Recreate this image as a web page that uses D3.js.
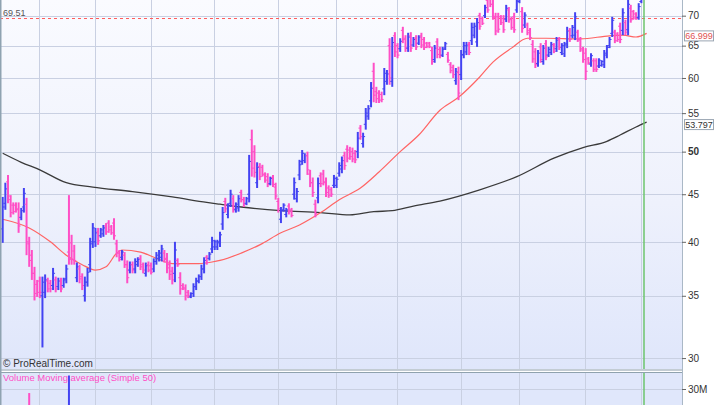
<!DOCTYPE html>
<html><head><meta charset="utf-8">
<script src="https://cdn.jsdelivr.net/npm/d3@7"></script>
<style>body{margin:0;background:#fff}svg{display:block}text{font-family:"Liberation Sans",Arial,sans-serif}</style>
</head><body><svg id="c" width="720" height="405"></svg>
<script>
// ---- data (daily OHLC, price) ----
const open=[41.3,44.0,46.4,44.4,43.8,43.8,43.4,42.5,43.6,43.9,
39.8,38.7,37.0,36.0,36.3,35.0,35.3,36.3,36.1,35.9,
36.4,35.8,36.3,35.9,36.5,39.0,39.9,39.1,36.6,37.4,
36.7,35.0,36.2,37.8,40.0,40.0,41.0,40.6,40.8,41.6,
41.9,41.5,41.9,39.8,38.9,38.5,38.7,37.8,37.3,37.8,
37.4,37.8,38.4,37.8,37.0,37.8,37.7,37.4,38.1,38.4,
38.5,38.9,38.4,37.8,37.2,37.0,38.2,36.6,35.9,35.6,
35.3,34.9,35.2,35.8,36.3,36.7,37.4,38.5,38.4,39.3,
39.5,39.5,39.9,41.8,44.2,42.8,44.0,44.5,43.3,43.5,
45.2,44.4,44.0,45.0,51.5,50.0,46.3,48.2,48.1,47.2,
47.0,46.2,46.9,45.8,44.2,42.3,43.3,42.8,43.7,43.3,
45.0,44.5,47.2,48.8,48.9,49.5,47.3,46.3,43.9,44.6,
47.1,47.3,46.3,45.7,45.5,46.0,46.0,47.4,47.9,49.5,
50.3,50.2,50.0,49.8,50.0,53.0,51.0,53.5,54.6,56.7,
61.0,58.0,57.8,57.6,58.4,59.5,65.0,59.5,66.6,65.0,
64.5,67.5,66.2,64.6,66.6,65.1,66.2,65.4,66.6,66.0,
65.4,65.4,64.2,62.8,65.6,64.4,63.5,64.6,63.6,62.0,
61.6,59.6,60.8,60.5,63.6,64.0,65.2,65.8,66.7,65.6,
70.0,69.5,70.0,72.7,73.2,72.0,69.7,69.8,69.8,69.5,
69.4,71.0,69.4,69.8,71.0,72.5,70.7,68.4,68.4,67.5,
65.2,64.0,62.2,64.8,62.5,65.3,63.5,63.9,65.1,64.5,
66.0,63.9,63.7,65.3,67.5,66.6,66.7,67.2,65.9,64.3,
63.8,62.9,62.1,62.6,62.6,61.8,61.9,62.0,63.5,65.0,
67.0,67.2,66.9,68.2,67.5,68.8,67.6,71.3,70.7,70.3,
69.7,72.5];
const high=[44.7,46.3,47.2,44.9,44.1,44.1,44.1,43.5,45.7,44.6,
40.5,39.2,37.6,36.4,36.7,36.7,36.9,36.6,36.4,37.5,
36.7,36.6,36.6,36.6,37.8,44.9,40.7,39.7,38.0,37.8,
37.0,36.7,37.5,40.4,41.9,41.4,41.4,41.4,41.7,41.9,
42.2,41.7,42.4,40.2,39.2,39.2,39.0,38.2,38.1,38.1,
38.4,38.5,38.7,38.0,38.0,38.1,38.0,38.4,39.0,39.2,
39.7,39.2,38.9,38.2,37.6,40.0,38.4,37.1,36.1,36.0,
35.5,35.3,36.1,36.6,36.9,37.8,38.5,38.7,39.0,40.5,
40.2,40.2,41.0,43.6,44.6,44.0,45.5,44.9,44.1,44.9,
45.5,44.7,44.7,49.6,52.8,50.8,48.7,48.6,48.4,47.5,
47.4,47.0,47.2,46.3,44.6,43.6,44.0,43.5,44.0,43.5,
46.9,45.7,49.0,50.2,49.8,50.0,47.8,46.9,44.4,46.9,
47.5,47.8,46.9,46.0,45.8,47.2,47.0,48.7,49.4,50.0,
50.8,50.6,50.5,50.2,52.5,53.4,52.4,55.7,56.1,59.4,
62.3,58.7,58.2,58.0,61.5,61.2,66.2,66.4,67.2,65.4,
66.2,68.1,66.7,67.1,67.2,66.4,66.7,66.7,67.1,66.4,
65.6,65.6,64.8,65.1,66.2,64.8,64.8,65.6,64.0,62.4,
62.0,61.5,61.7,64.3,65.6,65.6,65.6,68.8,68.8,69.6,
70.5,69.8,71.9,73.3,73.7,72.8,70.5,70.5,70.1,70.1,
71.9,71.5,69.8,70.5,73.1,73.7,71.5,70.6,68.8,67.9,
65.9,64.6,64.3,65.4,65.1,65.9,64.8,65.6,65.4,66.4,
66.4,65.4,65.6,68.1,67.9,68.4,70.6,67.6,66.4,64.8,
64.6,63.2,63.8,63.0,63.0,63.0,62.7,64.3,65.1,66.4,
69.8,67.6,67.2,68.8,71.3,69.3,73.1,71.9,71.0,70.6,
72.2,73.7];
const low=[39.9,43.3,44.0,42.5,42.8,43.0,40.9,42.2,43.0,38.7,
37.6,36.4,34.6,34.9,34.8,30.8,34.8,35.3,35.3,35.5,
35.3,35.5,35.3,35.7,36.1,37.8,37.8,37.8,36.2,36.1,
35.5,34.5,35.8,37.1,39.4,39.5,39.7,40.4,40.5,40.7,
40.9,40.7,40.2,38.5,38.1,38.2,37.5,36.1,37.0,37.0,
37.0,37.6,37.3,37.0,36.7,37.1,36.9,37.1,37.8,38.1,
38.1,38.0,37.0,36.4,36.0,36.2,37.6,35.1,35.5,34.6,
34.8,34.8,34.9,35.5,36.1,36.4,37.0,37.8,38.2,38.9,
39.2,39.2,39.5,41.2,43.0,42.4,43.6,43.0,43.0,43.1,
44.1,43.6,43.8,44.1,47.0,46.9,45.7,46.6,47.0,46.3,
45.8,46.0,45.8,44.4,43.0,41.9,43.1,42.5,42.8,42.5,
44.4,44.1,46.6,48.4,48.6,47.2,45.8,44.7,42.5,44.0,
45.8,46.0,44.7,44.6,44.7,45.7,45.7,47.0,47.4,47.8,
48.7,49.0,48.7,48.6,49.2,51.5,50.5,52.8,54.1,55.8,
56.5,56.4,56.4,56.5,57.5,59.0,59.0,58.7,63.2,63.0,
64.0,65.4,64.0,64.0,64.0,64.8,64.3,65.1,64.6,64.3,
64.6,64.6,62.0,62.3,63.0,63.0,63.2,64.3,62.3,60.7,
60.0,59.0,56.8,59.7,63.0,63.5,63.5,65.1,66.2,64.8,
67.6,68.4,69.6,70.5,71.5,69.3,66.7,67.1,68.4,67.1,
68.9,68.8,67.6,67.1,70.5,72.2,67.1,67.9,66.7,65.9,
62.3,61.5,61.7,62.3,62.0,62.7,63.2,63.5,63.8,64.0,
64.3,63.5,63.2,64.6,65.6,66.2,65.9,65.6,64.0,62.3,
59.7,62.0,61.7,60.9,60.9,61.5,61.7,61.5,63.0,64.6,
66.4,65.4,65.6,65.4,66.7,66.7,66.7,68.8,69.3,69.3,
69.3,72.2];
const close=[43.6,45.6,44.8,43.0,43.1,43.3,41.6,43.2,45.1,40.0,
38.2,37.0,35.2,35.3,35.3,36.2,36.4,35.6,35.6,37.0,
35.6,36.3,35.6,36.4,37.4,38.3,38.3,38.2,37.6,36.5,
35.9,36.2,37.1,39.8,41.4,40.9,40.1,41.2,41.4,41.0,
41.2,40.9,40.6,38.9,38.3,39.0,37.8,36.6,37.8,37.3,
38.1,38.3,37.6,37.3,37.7,37.3,37.1,38.1,38.7,38.9,
39.3,38.3,37.5,36.9,36.4,39.2,37.8,35.6,35.7,35.0,
35.0,35.2,35.8,36.3,36.7,37.4,38.2,38.0,38.8,40.1,
40.0,40.0,40.7,43.0,43.4,43.7,45.0,43.4,43.9,44.5,
44.4,43.9,44.5,48.8,48.0,47.5,48.1,47.0,47.3,46.6,
46.1,46.8,46.1,44.8,43.4,43.2,43.8,43.3,43.1,42.7,
46.3,45.3,48.4,49.8,49.5,47.8,46.3,45.2,42.9,46.2,
46.2,46.4,45.2,44.9,45.0,46.8,46.7,48.3,48.9,48.3,
49.2,49.4,49.1,49.0,51.7,51.9,51.9,55.0,55.6,58.5,
57.5,57.0,56.8,56.9,60.7,60.6,60.0,65.5,64.0,63.5,
65.7,66.0,64.6,66.4,64.6,66.0,64.8,66.4,65.1,64.7,
64.9,64.8,62.5,64.6,63.6,63.4,64.4,65.3,62.7,61.1,
60.5,60.9,57.8,63.5,65.0,65.1,63.9,68.0,68.2,68.8,
68.2,68.7,71.4,71.0,72.0,69.9,67.4,67.7,68.8,67.6,
71.3,69.3,68.0,67.6,72.6,73.3,67.8,70.1,67.1,66.3,
62.9,62.0,63.8,62.8,64.6,63.2,64.4,65.2,64.1,65.9,
64.7,65.0,65.1,67.4,66.0,68.0,69.8,66.0,64.5,62.8,
61.0,62.3,63.4,61.3,61.3,62.7,62.5,63.8,64.7,66.0,
69.2,65.8,66.0,66.0,70.5,67.2,72.0,69.3,69.6,69.5,
71.6,73.3];
// volume, millions of shares
const volume=[14,16,15,12,10,9,13,11,14,22,
28.5,18,20,15,13,23,16,12,11,13,
10,9,10,9,11,35,18,14,12,11,
12,14,12,16,15,12,10,9,9,10,
9,8,11,13,10,8,10,12,9,8,
9,8,9,8,9,8,8,9,10,9,
10,9,10,11,12,15,10,13,10,12,
9,8,9,10,9,11,12,9,10,13,
10,9,11,14,12,11,13,11,9,10,
11,9,9,21,22,16,13,11,9,10,
9,8,9,11,13,14,10,9,10,9,
14,11,16,15,11,13,12,12,15,14,
11,10,12,10,9,10,9,12,12,11,
11,9,10,9,14,13,11,17,15,19,
22,14,11,10,16,13,21,20,17,12,
12,14,12,13,12,10,11,10,11,10,
9,9,13,12,12,10,9,10,11,13,
12,13,18,17,13,11,10,15,13,16,
14,10,13,14,15,14,15,12,10,11,
13,11,10,12,15,14,17,13,11,12,
16,14,12,12,11,11,9,10,9,10,
10,9,10,12,10,11,14,11,12,13,
17,11,10,11,10,9,8,10,11,12,
15,12,10,12,14,12,19,13,10,9,
12,13];
// moving averages (bar index, value)
const ma50Idx=[0,10,18,24,30,35,39,43,45,52,58,64,74,79,82,90,97,105,112,120,127,135,142,150,157,165,172,180,185,192,198,205,218,229,234,239,243];
const ma50Val=[42.3,41.4,40.0,38.7,37.8,37.3,37.6,38.9,39.2,39.0,38.4,37.9,37.9,38.05,38.2,38.9,39.7,40.9,41.7,43.0,44.4,45.7,47.55,50.0,52.1,55.4,57.2,60.15,62.4,64.6,66.2,66.2,66.1,66.6,66.7,66.4,67.0];
const ma200Idx=[0,7,14,24,34,49,64,77,82,90,105,120,131,140,147,155,165,180,194,208,219,228,233,239,243];
const ma200Val=[49.8,48.7,47.8,46.3,45.8,45.3,44.7,44.1,43.9,43.6,43.2,43.0,42.75,43.1,43.2,43.7,44.25,45.5,47.0,49.2,50.5,51.3,52.1,53.15,53.8];
const ma50Last="66.999", ma200Last="53.797";
const priceTicks=[30,35,40,45,50,55,60,65,70];
const volTicks=[30];
const monthBreaks=[14,35,56,80,104,126,149,173,195,220,241];
const refLevel=69.51;
const cursorIdx=242;

// ---- layout ----
const W=720,H=405,plotL=0,plotR=682,mainTop=0,mainBot=369,volTop=373,volBot=405;
const FONT='"Liberation Sans",Arial,sans-serif';
const svg=d3.select("#c");
const x=d3.scaleLinear().domain([0,241]).range([2.7,641.35]);
const y=d3.scaleLog().domain([29.2,72.77]).range([mainBot,mainTop]);
const yv=d3.scaleLinear().domain([0,36]).range([470,372.8]);
const UP="#4343f2",DOWN="#ff4fc6";

const defs=svg.append("defs");
const g1=defs.append("linearGradient").attr("id","bgMain").attr("x1",0).attr("y1",0).attr("x2",0).attr("y2",1);
g1.append("stop").attr("offset","0%").attr("stop-color","#fafbff");
g1.append("stop").attr("offset","55%").attr("stop-color","#eef1fc");
g1.append("stop").attr("offset","100%").attr("stop-color","#dfe6fb");
defs.append("clipPath").attr("id","clipMain").append("rect").attr("x",plotL).attr("y",mainTop).attr("width",plotR-plotL).attr("height",mainBot-mainTop);
defs.append("clipPath").attr("id","clipVol").append("rect").attr("x",plotL).attr("y",volTop).attr("width",plotR-plotL).attr("height",volBot-volTop);

svg.append("rect").attr("width",W).attr("height",H).attr("fill","#ffffff");
svg.append("rect").attr("x",plotL).attr("y",mainTop).attr("width",plotR-plotL).attr("height",mainBot-mainTop).attr("fill","url(#bgMain)");
svg.append("rect").attr("x",plotL).attr("y",volTop).attr("width",plotR-plotL).attr("height",volBot-volTop).attr("fill","#e0e7fb");

// grid
const grid=svg.append("g").attr("stroke","#c9d0e2").attr("stroke-width",1);
priceTicks.forEach(t=>grid.append("line").attr("x1",plotL).attr("x2",plotR).attr("y1",Math.round(y(t))+0.5).attr("y2",Math.round(y(t))+0.5));
volTicks.forEach(t=>grid.append("line").attr("x1",plotL).attr("x2",plotR).attr("y1",Math.round(yv(t))+0.5).attr("y2",Math.round(yv(t))+0.5));
monthBreaks.forEach(m=>{
  const xx=Math.round(x(m)-0.5)+0.5;
  grid.append("line").attr("x1",xx).attr("x2",xx).attr("y1",mainTop).attr("y2",mainBot);
  grid.append("line").attr("x1",xx).attr("x2",xx).attr("y1",volTop).attr("y2",volBot);
});

// main panel content
const main=svg.append("g").attr("clip-path","url(#clipMain)");
main.append("line").attr("x1",plotL).attr("x2",plotR).attr("y1",y(refLevel)).attr("y2",y(refLevel))
  .attr("stroke","#ff5a5a").attr("stroke-width",1).attr("stroke-dasharray","3,3");

const line=d3.line().curve(d3.curveMonotoneX);
main.append("path").attr("d",line(ma200Idx.map((d,i)=>[x(d),y(ma200Val[i])]))).attr("fill","none").attr("stroke","#3a3a3a").attr("stroke-width",1.3);
main.append("path").attr("d",line(ma50Idx.map((d,i)=>[x(d),y(ma50Val[i])]))).attr("fill","none").attr("stroke","#ff6464").attr("stroke-width",1.2);

const bars=main.append("g");
open.forEach((o,i)=>{
  const c=close[i]>=o?UP:DOWN, xx=x(i);
  bars.append("line").attr("x1",xx).attr("x2",xx).attr("y1",y(high[i])).attr("y2",y(low[i])).attr("stroke",c).attr("stroke-width",2);
  bars.append("line").attr("x1",xx-2).attr("x2",xx).attr("y1",y(o)).attr("y2",y(o)).attr("stroke",c).attr("stroke-width",1);
  bars.append("line").attr("x1",xx).attr("x2",xx+2).attr("y1",y(close[i])).attr("y2",y(close[i])).attr("stroke",c).attr("stroke-width",1);
});

main.append("line").attr("x1",x(cursorIdx)).attr("x2",x(cursorIdx)).attr("y1",mainTop).attr("y2",mainBot).attr("stroke","#6cc46c").attr("stroke-width",1.5);

// volume panel
const vol=svg.append("g").attr("clip-path","url(#clipVol)");
volume.forEach((v,i)=>{
  const c=(i===0||close[i]>=close[i-1])?UP:DOWN;
  vol.append("line").attr("x1",x(i)).attr("x2",x(i)).attr("y1",yv(v)).attr("y2",470).attr("stroke",c).attr("stroke-width",2);
});
vol.append("line").attr("x1",x(cursorIdx)).attr("x2",x(cursorIdx)).attr("y1",volTop).attr("y2",volBot).attr("stroke","#6cc46c").attr("stroke-width",1.5);

// borders / separators
svg.append("rect").attr("x",0).attr("y",mainBot).attr("width",plotR).attr("height",2).attr("fill","#c3ccd4");
svg.append("line").attr("x1",0).attr("x2",plotR).attr("y1",volTop-0.5).attr("y2",volTop-0.5).attr("stroke","#8fa2ae").attr("stroke-width",1);
svg.append("line").attr("x1",0.75).attr("x2",0.75).attr("y1",0).attr("y2",H).attr("stroke","#8fa3b1").attr("stroke-width",1.5);
svg.append("line").attr("x1",plotR+0.5).attr("x2",plotR+0.5).attr("y1",0).attr("y2",H).attr("stroke","#aab8c6").attr("stroke-width",1);

// right axes
const axP=svg.append("g").attr("transform",`translate(${plotR},0)`)
  .call(d3.axisRight(y).tickValues(priceTicks).tickSize(4).tickPadding(2).tickFormat(d3.format("d")));
axP.select(".domain").remove();
axP.selectAll("line").attr("stroke","#666");
axP.selectAll("text").attr("font-family",FONT).attr("font-size",10).attr("fill","#333")
  .attr("font-weight",d=>d===50?"bold":"normal");
const axV=svg.append("g").attr("transform",`translate(${plotR},0)`)
  .call(d3.axisRight(yv).tickValues(volTicks).tickSize(4).tickPadding(2).tickFormat(d=>d+"M"));
axV.select(".domain").remove();
axV.selectAll("line").attr("stroke","#666");
axV.selectAll("text").attr("font-family",FONT).attr("font-size",10).attr("fill","#333");

// value tags (box sits just below the value, as in the reference)
function tag(val,txt,col){
  const yy=y(val);
  svg.append("rect").attr("x",684.5).attr("y",yy-2.5).attr("width",29).attr("height",10).attr("fill","#fff").attr("stroke","#9aa6b2").attr("stroke-width",1);
  svg.append("text").attr("x",699).attr("y",yy+6).attr("text-anchor","middle").attr("font-family",FONT).attr("font-size",9).attr("fill",col).text(txt);
}
tag(+ma50Last,ma50Last,"#e05252");
tag(+ma200Last,ma200Last,"#333");

// texts
svg.append("text").attr("x",3).attr("y",16).attr("font-family",FONT).attr("font-size",9).attr("fill","#555").text(refLevel.toFixed(2));
svg.append("text").attr("x",3).attr("y",367).attr("font-family",FONT).attr("font-size",10).attr("fill","#333").text("© ProRealTime.com");
svg.append("text").attr("x",3).attr("y",381).attr("font-family",FONT).attr("font-size",9.5).attr("fill","#ff4fc6").text("Volume Moving average (Simple 50)");
</script></body></html>
